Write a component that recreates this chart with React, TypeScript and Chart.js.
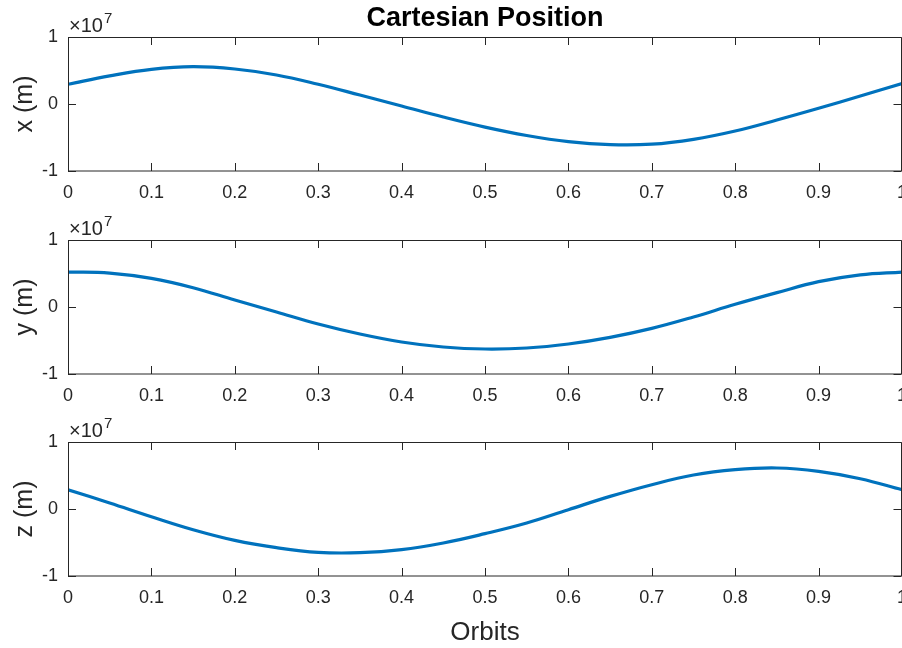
import React, { useEffect, useRef } from "react";
import { Chart, registerables } from "chart.js";

Chart.register(...registerables);

// Orbit fraction (x axis)
const orbits = [0, 0.05, 0.1, 0.15, 0.2, 0.25, 0.3, 0.35, 0.4, 0.45, 0.5, 0.55, 0.6, 0.65, 0.7, 0.75, 0.8, 0.85, 0.9, 0.95, 1.0];

// Cartesian position components (m)
const xPos = [2.94e6, 4.2e6, 5.18e6, 5.57e6, 5.22e6, 4.33e6, 2.94e6, 1.34e6, -0.3e6, -1.95e6, -3.45e6, -4.7e6, -5.62e6, -6.07e6, -6.0e6, -5.27e6, -4.03e6, -2.39e6, -0.64e6, 1.19e6, 3.05e6];
const yPos = [5.22e6, 5.07e6, 4.27e6, 2.88e6, 1.04e6, -0.75e6, -2.54e6, -4.03e6, -5.22e6, -5.97e6, -6.27e6, -6.12e6, -5.52e6, -4.53e6, -3.19e6, -1.49e6, 0.4e6, 2.14e6, 3.78e6, 4.8e6, 5.22e6];
const zPos = [2.88e6, 0.9e6, -1.15e6, -3.09e6, -4.68e6, -5.77e6, -6.47e6, -6.52e6, -6.07e6, -5.07e6, -3.68e6, -2.09e6, -0.1e6, 1.88e6, 3.63e6, 5.07e6, 5.87e6, 6.12e6, 5.62e6, 4.52e6, 2.88e6];

const xTicks = [0, 0.1, 0.2, 0.3, 0.4, 0.5, 0.6, 0.7, 0.8, 0.9, 1];
const yTickLabels = ["-1", "0", "1"];
const exponentBase = "\u00d710";
const exponentPower = "7";

const titleText = "Cartesian Position";
const xAxisTitle = "Orbits";
const yAxisTitles = ["x (m)", "y (m)", "z (m)"];

const FONT = "'Liberation Sans', Arial, Helvetica, sans-serif";
const TEXT = "#262626";
const LINE = "#0072BD";

const framePlugin = {
  id: "matlabFrame",
  afterDraw(chart: any) {
    const { ctx, chartArea, scales } = chart;
    const { left, right, top, bottom } = chartArea;
    const xs = scales.x;
    const ys = scales.y;
    ctx.save();
    ctx.strokeStyle = TEXT;
    ctx.lineWidth = 1;
    const r = Math.min(right, chart.width - 0.5);
    ctx.beginPath();
    ctx.rect(left + 0.5, top + 0.5, r - left - 0.5, bottom - top - 0.5);
    ctx.stroke();
    const tl = 8;
    ctx.beginPath();
    xs.ticks.forEach((t: any) => {
      const px = Math.round(xs.getPixelForValue(t.value)) + 0.5;
      ctx.moveTo(px, bottom);
      ctx.lineTo(px, bottom - tl);
      ctx.moveTo(px, top);
      ctx.lineTo(px, top + tl);
    });
    ys.ticks.forEach((t: any) => {
      const py = Math.round(ys.getPixelForValue(t.value)) + 0.5;
      ctx.moveTo(left, py);
      ctx.lineTo(left + tl, py);
      ctx.moveTo(r, py);
      ctx.lineTo(r - tl, py);
    });
    ctx.stroke();
    // exponent label
    ctx.fillStyle = TEXT;
    ctx.textAlign = "left";
    ctx.textBaseline = "alphabetic";
    ctx.font = `20px ${FONT}`;
    const bx = left + 1;
    const by = top - 5;
    ctx.fillText(exponentBase, bx, by);
    const w = ctx.measureText(exponentBase).width;
    ctx.font = `15px ${FONT}`;
    ctx.fillText(exponentPower, bx + w + 1, top - 14);
    ctx.restore();
  },
};

function makeConfig(values: number[], yTitle: string, opts: { plotTop: number; axisHeight: number; showTitle: boolean; showXTitle: boolean }) {
  return {
    type: "line" as const,
    data: {
      datasets: [
        {
          data: orbits.map((o, i) => ({ x: o, y: values[i] })),
          borderColor: LINE,
          borderWidth: 3.2,
          pointRadius: 0,
          tension: 0.4,
          fill: false,
        },
      ],
    },
    plugins: [framePlugin],
    options: {
      responsive: false,
      animation: false as const,
      devicePixelRatio: 1,
      layout: { padding: { top: opts.showTitle ? 0 : opts.plotTop, left: 0, right: 0, bottom: 0 } },
      plugins: {
        legend: { display: false },
        tooltip: { enabled: false },
        title: {
          display: opts.showTitle,
          text: titleText,
          fullSize: false,
          color: "#000000",
          font: { family: FONT, size: 27, weight: "bold" as const, lineHeight: 1.2 },
          padding: { top: 2.6, bottom: 2 },
        },
      },
      scales: {
        x: {
          type: "linear" as const,
          min: 0,
          max: 1,
          afterBuildTicks(scale: any) {
            scale.ticks = xTicks.map((v) => ({ value: v }));
          },
          afterFit(scale: any) {
            scale.height = opts.axisHeight;
            scale.paddingLeft = 0;
            scale.paddingRight = 0;
          },
          grid: { display: false, drawTicks: false },
          border: { display: false },
          ticks: {
            color: TEXT,
            font: { family: FONT, size: 18 },
            padding: 11,
            maxRotation: 0,
            autoSkip: false,
            callback: (v: any) => String(Number(Number(v).toFixed(1))),
          },
          title: {
            display: opts.showXTitle,
            text: xAxisTitle,
            color: TEXT,
            font: { family: FONT, size: 26, lineHeight: 1.2 },
            padding: { top: 0, bottom: 0 },
          },
        },
        y: {
          type: "linear" as const,
          min: -1e7,
          max: 1e7,
          afterBuildTicks(scale: any) {
            scale.ticks = [-1e7, 0, 1e7].map((v) => ({ value: v }));
          },
          afterFit(scale: any) {
            scale.width = 68;
            scale.paddingTop = 0;
            scale.paddingBottom = 0;
          },
          grid: { display: false, drawTicks: false },
          border: { display: false },
          ticks: {
            color: TEXT,
            font: { family: FONT, size: 18 },
            padding: 10,
            autoSkip: false,
            callback: (v: any) => yTickLabels[Math.round(Number(v) / 1e7) + 1],
          },
          title: {
            display: true,
            text: yTitle,
            color: TEXT,
            font: { family: FONT, size: 25, lineHeight: 1.2 },
            padding: { top: 10, bottom: 0 },
          },
        },
      },
    },
  };
}

const panels = [
  { values: xPos, top: 0, height: 205, plotTop: 37, plotBottom: 171, showTitle: true, showXTitle: false },
  { values: yPos, top: 205, height: 205, plotTop: 35, plotBottom: 169, showTitle: false, showXTitle: false },
  { values: zPos, top: 410, height: 238, plotTop: 32, plotBottom: 166, showTitle: false, showXTitle: true },
];

function Panel({ idx }: { idx: number }) {
  const ref = useRef<HTMLCanvasElement | null>(null);
  const p = panels[idx];
  useEffect(() => {
    if (!ref.current) return;
    const cfg: any = makeConfig(p.values, yAxisTitles[idx], {
      plotTop: p.plotTop,
      axisHeight: p.height - p.plotBottom,
      showTitle: p.showTitle,
      showXTitle: p.showXTitle,
    });
    const chart = new Chart(ref.current, cfg);
    return () => chart.destroy();
  }, [idx]);
  return (
    <canvas
      ref={ref}
      width={902}
      height={p.height}
      style={{ position: "absolute", left: 0, top: p.top, width: 902, height: p.height }}
    />
  );
}

export default function App() {
  return (
    <div style={{ position: "absolute", left: 0, top: 0, width: 902, height: 648, background: "#ffffff", overflow: "hidden" }}>
      {panels.map((_, i) => (
        <Panel key={i} idx={i} />
      ))}
    </div>
  );
}
